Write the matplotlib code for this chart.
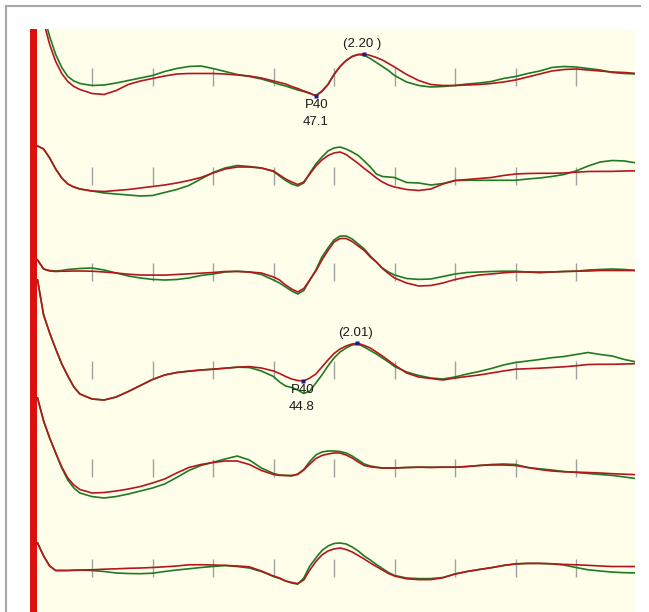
import matplotlib
matplotlib.use('Agg')
import matplotlib.pyplot as plt
from matplotlib.lines import Line2D

plt.rcParams['font.family'] = ['Liberation Sans', 'DejaVu Sans']

#%% Data (ms, amplitude in screen units, up = positive)

time_ms = [1, 2, 3, 4, 5, 6, 7, 8,
           10, 12, 14, 16, 18, 20, 22, 24, 26, 28, 30, 32, 34, 36, 38, 40,
           41, 42, 43, 44, 45, 46, 47, 48, 49, 50, 51, 52, 53, 54, 55, 56, 57, 58, 59, 60,
           62, 64, 66, 68, 70, 72, 74, 76, 78, 80, 82, 84, 86, 88, 90, 92, 94, 96, 98, 100]

ch1_green = [80, 62, 40, 22, 9, 0, -4.5, -7,
             -9, -8.5, -6.5, -4, -1.5, 1, 5, 8, 10, 10.5, 8, 5, 2, 0, -2.5, -6,
             -8, -9.5, -11.5, -13.5, -15, -17, -19, -14.5, -8, 2, 10, 16, 20, 22, 21, 18, 14, 10, 6, 1,
             -5.5, -9, -10.5, -10, -9, -7.5, -6.5, -5, -2, 0, 3, 5.5, 9, 10, 9.5, 8, 6.5, 4, 3, 2.5]
ch1_red = [80, 55, 32, 15, 3, -5, -10, -13,
           -17, -18, -14, -8, -4.5, -2, 0.5, 2.5, 3, 3, 3, 2.5, 1.5, 0.5, -1.5, -4.5,
           -6, -7.5, -10, -12, -14.5, -16.5, -19.5, -15, -8, 2, 10, 16, 20, 22, 22.5, 21, 19, 16.5, 13, 9.5,
           2, -4, -8, -9, -9, -8.5, -8, -7, -5.5, -3.5, -0.5, 2.5, 5.5, 7, 7.5, 6.5, 5.5, 4.5, 4, 3]

ch2_green = [30, 27, 18, 7, -2, -8, -11, -13,
             -15, -17, -18, -19, -20, -19.5, -16.5, -13.5, -9.5, -3, 3.5, 8, 10.5, 9.5, 8, 4.5,
             0, -4.5, -8, -10, -7, 3, 12, 19, 25, 28, 29, 27, 24, 20.5, 15, 9, 2, -0.5, -1, -1.5,
             -6.5, -7, -9, -7.5, -4.5, -4.3, -4.3, -4.3, -4.3, -4.3, -3, -2, -0.5, 1.5, 5, 10, 14, 15.5, 15, 13]
ch2_red = [30, 27, 18, 7, -2, -8, -11, -13,
           -15, -15.5, -14.5, -13.5, -12, -10.5, -9, -7, -4.5, -1.5, 3, 7, 9, 9, 8, 5,
           1, -3, -6, -8.5, -6, 2, 10, 16, 20.5, 23, 24, 21.5, 17, 12.5, 7.5, 3, -2, -6, -9, -11,
           -13.5, -14.5, -13, -8, -4.5, -3.5, -2.5, -1.5, 0.5, 2, 2.5, 2.7, 2.7, 3, 3.8, 4.5, 4.6, 4.6, 5, 5.2]

ch3_green = [12, 3, 1.5, 1, 1.5, 2.5, 3, 3.5,
             4, 2, -1, -4, -6, -7.4, -8, -7.5, -6, -3.5, -2, 0, 0.8, 0, -2.5, -8,
             -11, -15, -19, -22, -18.5, -8, 2, 15, 24, 32, 36, 36, 33, 28, 23, 16, 10, 4, 0, -3,
             -6.5, -7.4, -7, -4.5, -2, -0.5, 0, 0.5, 0.8, 0.8, 0, -0.8, 0, 0.5, 0.8, 2, 2.5, 3, 2.5, 1.5]
ch3_red = [12, 3, 1, 0.5, 0.8, 0.8, 1, 1,
           0.8, 0, -1, -2.2, -3, -3.1, -3.1, -2.5, -1.8, -1.2, -0.5, 0.5, 0.5, 0, -1, -5,
           -8, -13, -17, -20, -16.5, -8, 1, 12, 21.5, 30, 33.5, 33.5, 30.5, 26, 21.5, 15, 10, 3.5, -1.5, -6,
           -11, -14, -13.5, -11, -7.5, -5, -3, -2, -0.8, 0, 0, 0, 0, 0.5, 0.8, 1, 1.5, 1.5, 1.5, 1.5]

ch4_green = [90, 55, 37, 21, 6, -6, -17, -24,
             -29, -30, -27, -21.5, -15.5, -9.5, -5, -2.5, -1.2, 0, 0.8, 1.8, 2.8, 2.5, -1, -6.5,
             -12, -16, -17.5, -20, -23.5, -21, -13, -5, 4, 12, 18, 22, 25, 26, 23, 19.5, 16, 12, 8, 3.5,
             -2, -5.5, -8, -9, -7, -4, -1.5, 1.5, 5, 7.5, 9, 10.5, 12.3, 13.5, 15.5, 17.5, 15.5, 14, 10.5, 8]
ch4_red = [90, 55, 37, 21, 6, -6, -17, -24,
           -29, -30, -27, -21.5, -15.5, -9.5, -5, -2.5, -1.2, 0, 0.8, 1.8, 2.8, 3.4, 2, -1,
           -3.5, -6.5, -9, -10.5, -11, -8, -4, 3, 10, 16.5, 21, 24, 26, 26.7, 24.5, 22, 18, 14, 9.5, 5,
           -3, -7, -8.5, -10, -8, -6.5, -5, -3, -1, 0.8, 1.3, 1.8, 2.5, 3.2, 4.2, 5.5, 5.7, 5.7, 6, 6.4]

ch5_green = [70, 47, 30, 15, 0, -12, -20, -25,
             -28.6, -30, -28.5, -26, -23, -20, -16, -9.5, -2.5, 2.5, 5.7, 9, 12, 8, 0, -5.5,
             -7, -7.5, -8, -6, -1.5, 6.5, 13, 16, 17, 17, 16.5, 15, 12, 8, 4, 2, 1, 0, 0, 0,
             0.5, 0.8, 0.8, 0.8, 0.8, 1.5, 2.5, 3.5, 4, 3.5, 0.5, -0.8, -2, -3.5, -4.5, -5.5, -6.5, -7.4, -9, -10.6]
ch5_red = [70, 47, 30, 15, 1, -10, -17, -21.5,
           -25, -24.5, -23, -21, -18.5, -15, -11, -5, 0.5, 3.5, 5.5, 7, 7, 3.5, -2.5, -6.5,
           -7.4, -7.4, -7.4, -6.5, -2, 4, 9.5, 12.5, 14, 15, 15, 13, 10, 6, 2.5, 1.2, 0.5, 0, 0, 0,
           0.5, 0.8, 0.5, 0.8, 0.8, 1.5, 2.5, 3, 3, 2.5, 0.5, -1.5, -3, -3.8, -4.1, -4.5, -5, -5.7, -6.2, -6.7]

ch6_green = [25, 12, 2, -2.5, -2.5, -2.5, -2.3, -2.2,
             -2.5, -3.5, -5, -5.5, -5.7, -5.2, -3.5, -2, -0.8, 0.5, 1.5, 2.5, 1.5, 0, -3.5, -8.5,
             -10.5, -13, -15, -16.2, -10, 2, 10, 17.5, 22, 24.5, 25, 24, 21, 17, 12, 8, 3.5, -0.5, -4.5, -7.5,
             -10, -10.6, -10.6, -9.5, -6, -3.5, -1.5, 0.3, 2.5, 4.1, 4.6, 4.6, 4.2, 3, 0.5, -1.8, -3, -4.1, -4.7, -5]
ch6_red = [25, 12, 2, -2.5, -2.5, -2.5, -2.2, -2,
           -1.8, -1.2, -0.8, -0.3, 0, 0.5, 1.2, 2, 3.2, 3.3, 3, 2.6, 2, 1.2, -3, -8,
           -10, -13, -14.5, -15.5, -12, -2, 6.5, 13, 17, 19, 20, 18.5, 16, 12.5, 9, 5, 1.5, -2, -5.5, -8,
           -10.8, -11.6, -11.6, -9.8, -6, -3.5, -1.5, 0.3, 2.5, 4.1, 4.6, 4.6, 4.2, 3.6, 3.2, 2.7, 2, 1.5, 1.5, 1.5]

greens = [ch1_green, ch2_green, ch3_green, ch4_green, ch5_green, ch6_green]
reds = [ch1_red, ch2_red, ch3_red, ch4_red, ch5_red, ch6_red]

tick_ms = [10, 20, 30, 40, 50, 60, 70, 80, 90]

# marked peaks (channel 1 and channel 4)
mark_rows = [0, 3]
p40_ms = [47.1, 44.8]
p40_amp = [-19.5, -11]
p40_text = ['47.1', '44.8']
peak_ms = [55.0, 53.8]
peak_amp = [22.5, 26.7]
peak_text = ['(2.20 )', '(2.01)']

#%% Layout

baselines = [76.5, 176, 272, 370, 468, 568]  # screen rows, top down

fig = plt.figure(figsize=(6.49, 6.12), dpi=100)
fig.patch.set_facecolor('white')
ax = fig.add_axes([30/649, 0, 605/649, 583/612])
ax.set_facecolor('#fefeea')
ax.set_xlim(-0.25, 99.75)
ax.set_ylim(612, 29)
ax.set_xticks([])
ax.set_yticks([])
for s in ax.spines.values():
    s.set_visible(False)

# stimulus artefact
ax.axvspan(-0.25, 0.9, color='#dd1010', lw=0)

for i, b in enumerate(baselines):
    ax.vlines(tick_ms, b - 9, b + 9, color='#a0a0a0', lw=1)
    ax.plot(time_ms, [b - v for v in greens[i]], color='#1f7a22', lw=1.2)
    ax.plot(time_ms, [b - v for v in reds[i]], color='#b3161c', lw=1.2)

#%% Markers and labels

for k, row in enumerate(mark_rows):
    b = baselines[row]
    ax.plot(p40_ms[k], b - p40_amp[k], 's', ms=3.5, color='#1c1c90', mec='none')
    ax.plot(peak_ms[k], b - peak_amp[k], 's', ms=3.5, color='#1c1c90', mec='none')
    ax.annotate('P40', (p40_ms[k], b - p40_amp[k]), xytext=(0, -9), textcoords='offset pixels',
                ha='center', va='center', fontsize=9.5, color='#1a1a1a')
    ax.annotate(p40_text[k], (p40_ms[k], b - p40_amp[k]), xytext=(-1, -26), textcoords='offset pixels',
                ha='center', va='center', fontsize=9.5, color='#1a1a1a')
    ax.annotate(peak_text[k], (peak_ms[k], b - peak_amp[k]), xytext=(-2, 10), textcoords='offset pixels',
                ha='center', va='center', fontsize=9.5, color='#1a1a1a')

# outer frame
fig.add_artist(Line2D([6/649, 6/649], [0, 1 - 6/612], color='#a8a8a8', lw=1.5, transform=fig.transFigure))
fig.add_artist(Line2D([6/649, 640/649], [1 - 6/612, 1 - 6/612], color='#a8a8a8', lw=1.5, transform=fig.transFigure))

plt.savefig('out.png', dpi=100)
